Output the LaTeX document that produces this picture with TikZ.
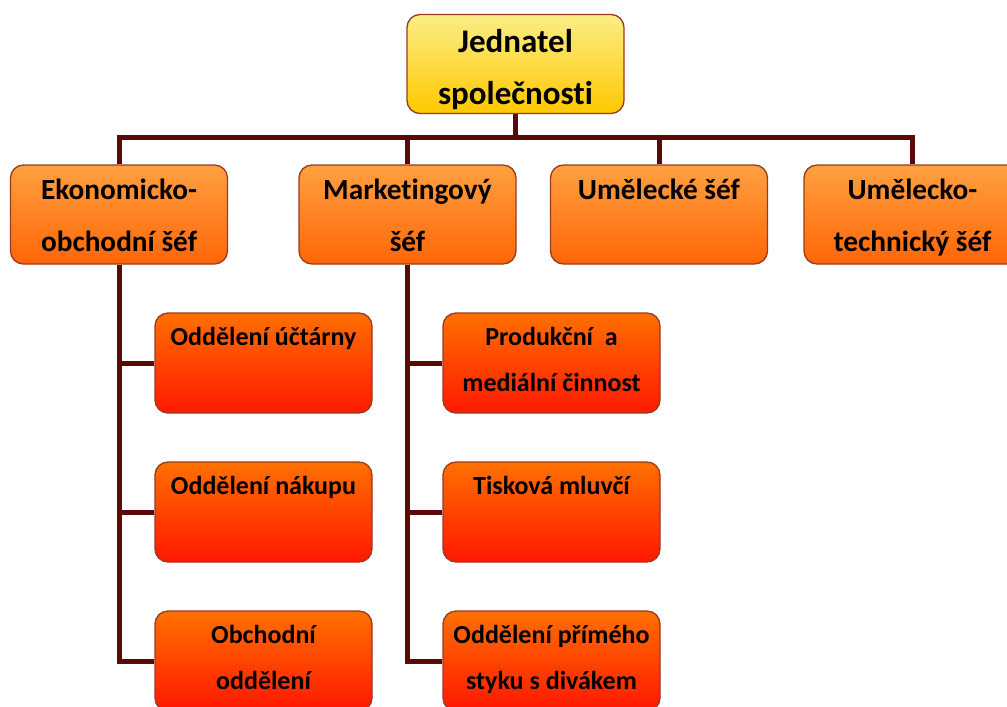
\documentclass[tikz,border=0pt]{standalone}
\usepackage{fontspec}
\setmainfont{Carlito}[Ligatures=NoCommon]
\usetikzlibrary{backgrounds}
\definecolor{conncol}{HTML}{5A0808}
\definecolor{edgecol}{HTML}{9A3A1E}
\definecolor{ytop}{HTML}{FBEE86}
\definecolor{ybot}{HTML}{FFC800}
\definecolor{otop}{HTML}{FFA040}
\definecolor{obot}{HTML}{FF6608}
\definecolor{rtop}{HTML}{FF7000}
\definecolor{rbot}{HTML}{FF1800}
\newcommand\upstrut[1]{\rule{0pt}{#1em}}
\tikzset{
  box/.style={draw=edgecol, line width=1.3pt, rounded corners=13pt,
    minimum width=217pt, minimum height=99pt, inner sep=0pt, align=center,
    font=\bfseries},
  topbox/.style={box, top color=ytop, bottom color=ybot,
    font=\bfseries\fontsize{33}{52}\selectfont,
    execute at end node={\rule[-0.25em]{0pt}{0pt}}},
  midbox/.style={box, top color=otop, bottom color=obot,
    font=\bfseries\fontsize{29.3}{52}\selectfont,
    execute at end node={\rule[-0.25em]{0pt}{0pt}}},
  subbox/.style={box, top color=rtop, bottom color=rbot, minimum height=100pt,
    font=\bfseries\fontsize{26}{46}\selectfont,
    execute at end node={\rule[-0.25em]{0pt}{0pt}}},
  conn/.style={draw=conncol, line width=5pt},
}
\begin{document}
\begin{tikzpicture}[x=1pt,y=-1pt]
\useasboundingbox (0,0) rectangle (1007,707);
\clip (0,0) rectangle (1007,707);
\coordinate (bus) at (515.5,137);
\node[topbox] (top) at (515.5,64) {\upstrut{1.1}Jednatel\\společnosti};
\node[midbox] (b1) at (119,214.5) {\upstrut{0.98}Ekonomicko-\\obchodní šéf};
\node[midbox] (b2) at (407.5,214.5) {\upstrut{0.98}Marketingový\\šéf};
\node[midbox] (b3) at (659,214.5) {\upstrut{0.98}Umělecké šéf\\\phantom{x}};
\node[midbox] (b4) at (912.5,214.5) {\upstrut{0.98}Umělecko-\\technický šéf};
\node[subbox] (c11) at (263.5,363) {Oddělení účtárny\\\phantom{x}};
\node[subbox] (c12) at (263.5,512) {Oddělení nákupu\\\phantom{x}};
\node[subbox] (c13) at (263.5,661) {Obchodní\\oddělení};
\node[subbox] (c21) at (551.5,363) {Produkční~ a\\mediální činnost};
\node[subbox] (c22) at (551.5,512) {Tisková mluvčí\\\phantom{x}};
\node[subbox] (c23) at (551.5,661) {Oddělení přímého\\styku s divákem};
\begin{scope}[on background layer]
\fill[white] (0,0) rectangle (1007,707);
\draw[conn] (top.south) -- (bus);
\draw[conn] (b1.north) |- (bus) -| (b4.north);
\draw[conn] (b2.north) -- (b2.north |- bus);
\draw[conn] (b3.north) -- (b3.north |- bus);
\draw[conn] (b1.south) |- (c13.west);
\draw[conn] (c11.west) -- (c11.west -| b1.south);
\draw[conn] (c12.west) -- (c12.west -| b1.south);
\draw[conn] (b2.south) |- (c23.west);
\draw[conn] (c21.west) -- (c21.west -| b2.south);
\draw[conn] (c22.west) -- (c22.west -| b2.south);
\end{scope}
\end{tikzpicture}
\end{document}
